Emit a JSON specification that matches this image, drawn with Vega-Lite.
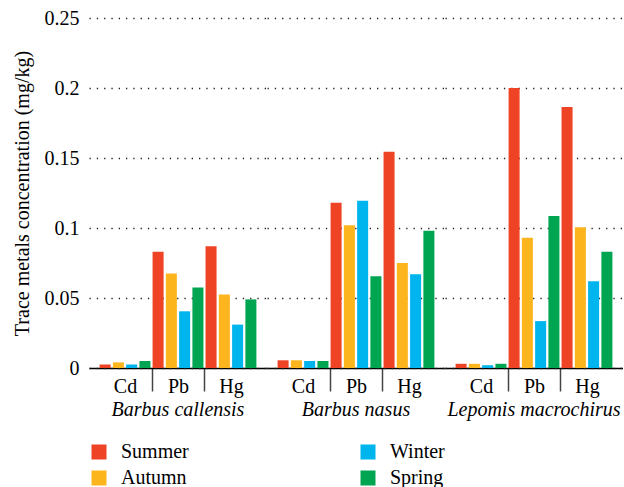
{
  "$schema": "https://vega.github.io/schema/vega-lite/v6.json",
  "padding": {"left": 12, "top": 8, "right": 0, "bottom": 0},
  "background": "white",
  "data": {
    "values": [
      {"species": "Barbus callensis", "metal": "Cd", "season": "Summer", "value": 0.0025},
      {"species": "Barbus callensis", "metal": "Cd", "season": "Autumn", "value": 0.004},
      {"species": "Barbus callensis", "metal": "Cd", "season": "Winter", "value": 0.0025},
      {"species": "Barbus callensis", "metal": "Cd", "season": "Spring", "value": 0.005},
      {"species": "Barbus callensis", "metal": "Pb", "season": "Summer", "value": 0.083},
      {"species": "Barbus callensis", "metal": "Pb", "season": "Autumn", "value": 0.0675},
      {"species": "Barbus callensis", "metal": "Pb", "season": "Winter", "value": 0.0405},
      {"species": "Barbus callensis", "metal": "Pb", "season": "Spring", "value": 0.0575},
      {"species": "Barbus callensis", "metal": "Hg", "season": "Summer", "value": 0.087},
      {"species": "Barbus callensis", "metal": "Hg", "season": "Autumn", "value": 0.0525},
      {"species": "Barbus callensis", "metal": "Hg", "season": "Winter", "value": 0.031},
      {"species": "Barbus callensis", "metal": "Hg", "season": "Spring", "value": 0.049},
      {"species": "Barbus nasus", "metal": "Cd", "season": "Summer", "value": 0.0055},
      {"species": "Barbus nasus", "metal": "Cd", "season": "Autumn", "value": 0.0055},
      {"species": "Barbus nasus", "metal": "Cd", "season": "Winter", "value": 0.005},
      {"species": "Barbus nasus", "metal": "Cd", "season": "Spring", "value": 0.005},
      {"species": "Barbus nasus", "metal": "Pb", "season": "Summer", "value": 0.118},
      {"species": "Barbus nasus", "metal": "Pb", "season": "Autumn", "value": 0.102},
      {"species": "Barbus nasus", "metal": "Pb", "season": "Winter", "value": 0.1195},
      {"species": "Barbus nasus", "metal": "Pb", "season": "Spring", "value": 0.0655},
      {"species": "Barbus nasus", "metal": "Hg", "season": "Summer", "value": 0.1545},
      {"species": "Barbus nasus", "metal": "Hg", "season": "Autumn", "value": 0.075},
      {"species": "Barbus nasus", "metal": "Hg", "season": "Winter", "value": 0.067},
      {"species": "Barbus nasus", "metal": "Hg", "season": "Spring", "value": 0.098},
      {"species": "Lepomis macrochirus", "metal": "Cd", "season": "Summer", "value": 0.003},
      {"species": "Lepomis macrochirus", "metal": "Cd", "season": "Autumn", "value": 0.003},
      {"species": "Lepomis macrochirus", "metal": "Cd", "season": "Winter", "value": 0.002},
      {"species": "Lepomis macrochirus", "metal": "Cd", "season": "Spring", "value": 0.003},
      {"species": "Lepomis macrochirus", "metal": "Pb", "season": "Summer", "value": 0.2},
      {"species": "Lepomis macrochirus", "metal": "Pb", "season": "Autumn", "value": 0.093},
      {"species": "Lepomis macrochirus", "metal": "Pb", "season": "Winter", "value": 0.0335},
      {"species": "Lepomis macrochirus", "metal": "Pb", "season": "Spring", "value": 0.1085},
      {"species": "Lepomis macrochirus", "metal": "Hg", "season": "Summer", "value": 0.1865},
      {"species": "Lepomis macrochirus", "metal": "Hg", "season": "Autumn", "value": 0.1005},
      {"species": "Lepomis macrochirus", "metal": "Hg", "season": "Winter", "value": 0.062},
      {"species": "Lepomis macrochirus", "metal": "Hg", "season": "Spring", "value": 0.083}
    ]
  },
  "facet": {
    "column": {
      "field": "species",
      "type": "nominal",
      "sort": ["Barbus callensis", "Barbus nasus", "Lepomis macrochirus"],
      "title": null,
      "header": {
        "labelOrient": "bottom",
        "labelFont": "Liberation Serif",
        "labelFontStyle": "italic",
        "labelFontSize": 20,
        "labelColor": "black",
        "labelPadding": 4
      }
    }
  },
  "spacing": 0,
  "spec": {
    "width": 178,
    "height": 350,
    "mark": {"type": "bar"},
    "encoding": {
      "x": {
        "field": "metal",
        "type": "nominal",
        "sort": ["Cd", "Pb", "Hg"],
        "title": null,
        "scale": {"paddingInner": 0, "paddingOuter": 0.18},
        "axis": {
          "labelAngle": 0,
          "labelFont": "Liberation Serif",
          "labelFontSize": 20,
          "labelColor": "black",
          "labelPadding": -15,
          "domainColor": "black",
          "domainWidth": 1.3,
          "tickBand": "extent",
          "tickSize": 23,
          "tickWidth": 1.5,
          "tickColor": "#444",
          "tickOpacity": {"condition": {"test": "datum.value !== 'Cd' && datum.value !== 'Pb'", "value": 0}, "value": 1}
        }
      },
      "xOffset": {
        "field": "season",
        "sort": ["Summer", "Autumn", "Winter", "Spring"],
        "scale": {"paddingInner": 0.17, "paddingOuter": 0.08}
      },
      "y": {
        "field": "value",
        "type": "quantitative",
        "scale": {"domain": [0, 0.25], "nice": false},
        "axis": {
          "values": [0, 0.05, 0.1, 0.15, 0.2, 0.25],
          "format": "~g",
          "title": "Trace metals concentration (mg/kg)",
          "titleFont": "Liberation Serif",
          "titleFontSize": 20,
          "titleFontWeight": "normal",
          "titleColor": "black",
          "titlePadding": 12,
          "labelFont": "Liberation Serif",
          "labelFontSize": 20,
          "labelColor": "black",
          "labelPadding": 10,
          "ticks": false,
          "domain": false,
          "grid": true,
          "gridDash": [1.3, 6],
          "gridColor": "#222",
          "gridWidth": 1.3
        }
      },
      "color": {
        "field": "season",
        "type": "nominal",
        "scale": {
          "domain": ["Summer", "Winter", "Autumn", "Spring"],
          "range": ["#EE4325", "#00B4EE", "#FCB51C", "#00A551"]
        },
        "legend": {
          "title": null,
          "orient": "none",
          "legendX": 0,
          "legendY": 424,
          "columns": 2,
          "direction": "horizontal",
          "symbolType": "square",
          "symbolSize": 225,
          "symbolStrokeWidth": 0,
          "symbolOpacity": 1,
          "labelFont": "Liberation Serif",
          "labelFontSize": 20,
          "labelColor": "black",
          "labelOffset": 12,
          "rowPadding": 6,
          "columnPadding": 169
        }
      }
    }
  },
  "config": {
    "view": {"stroke": null}
  }
}
